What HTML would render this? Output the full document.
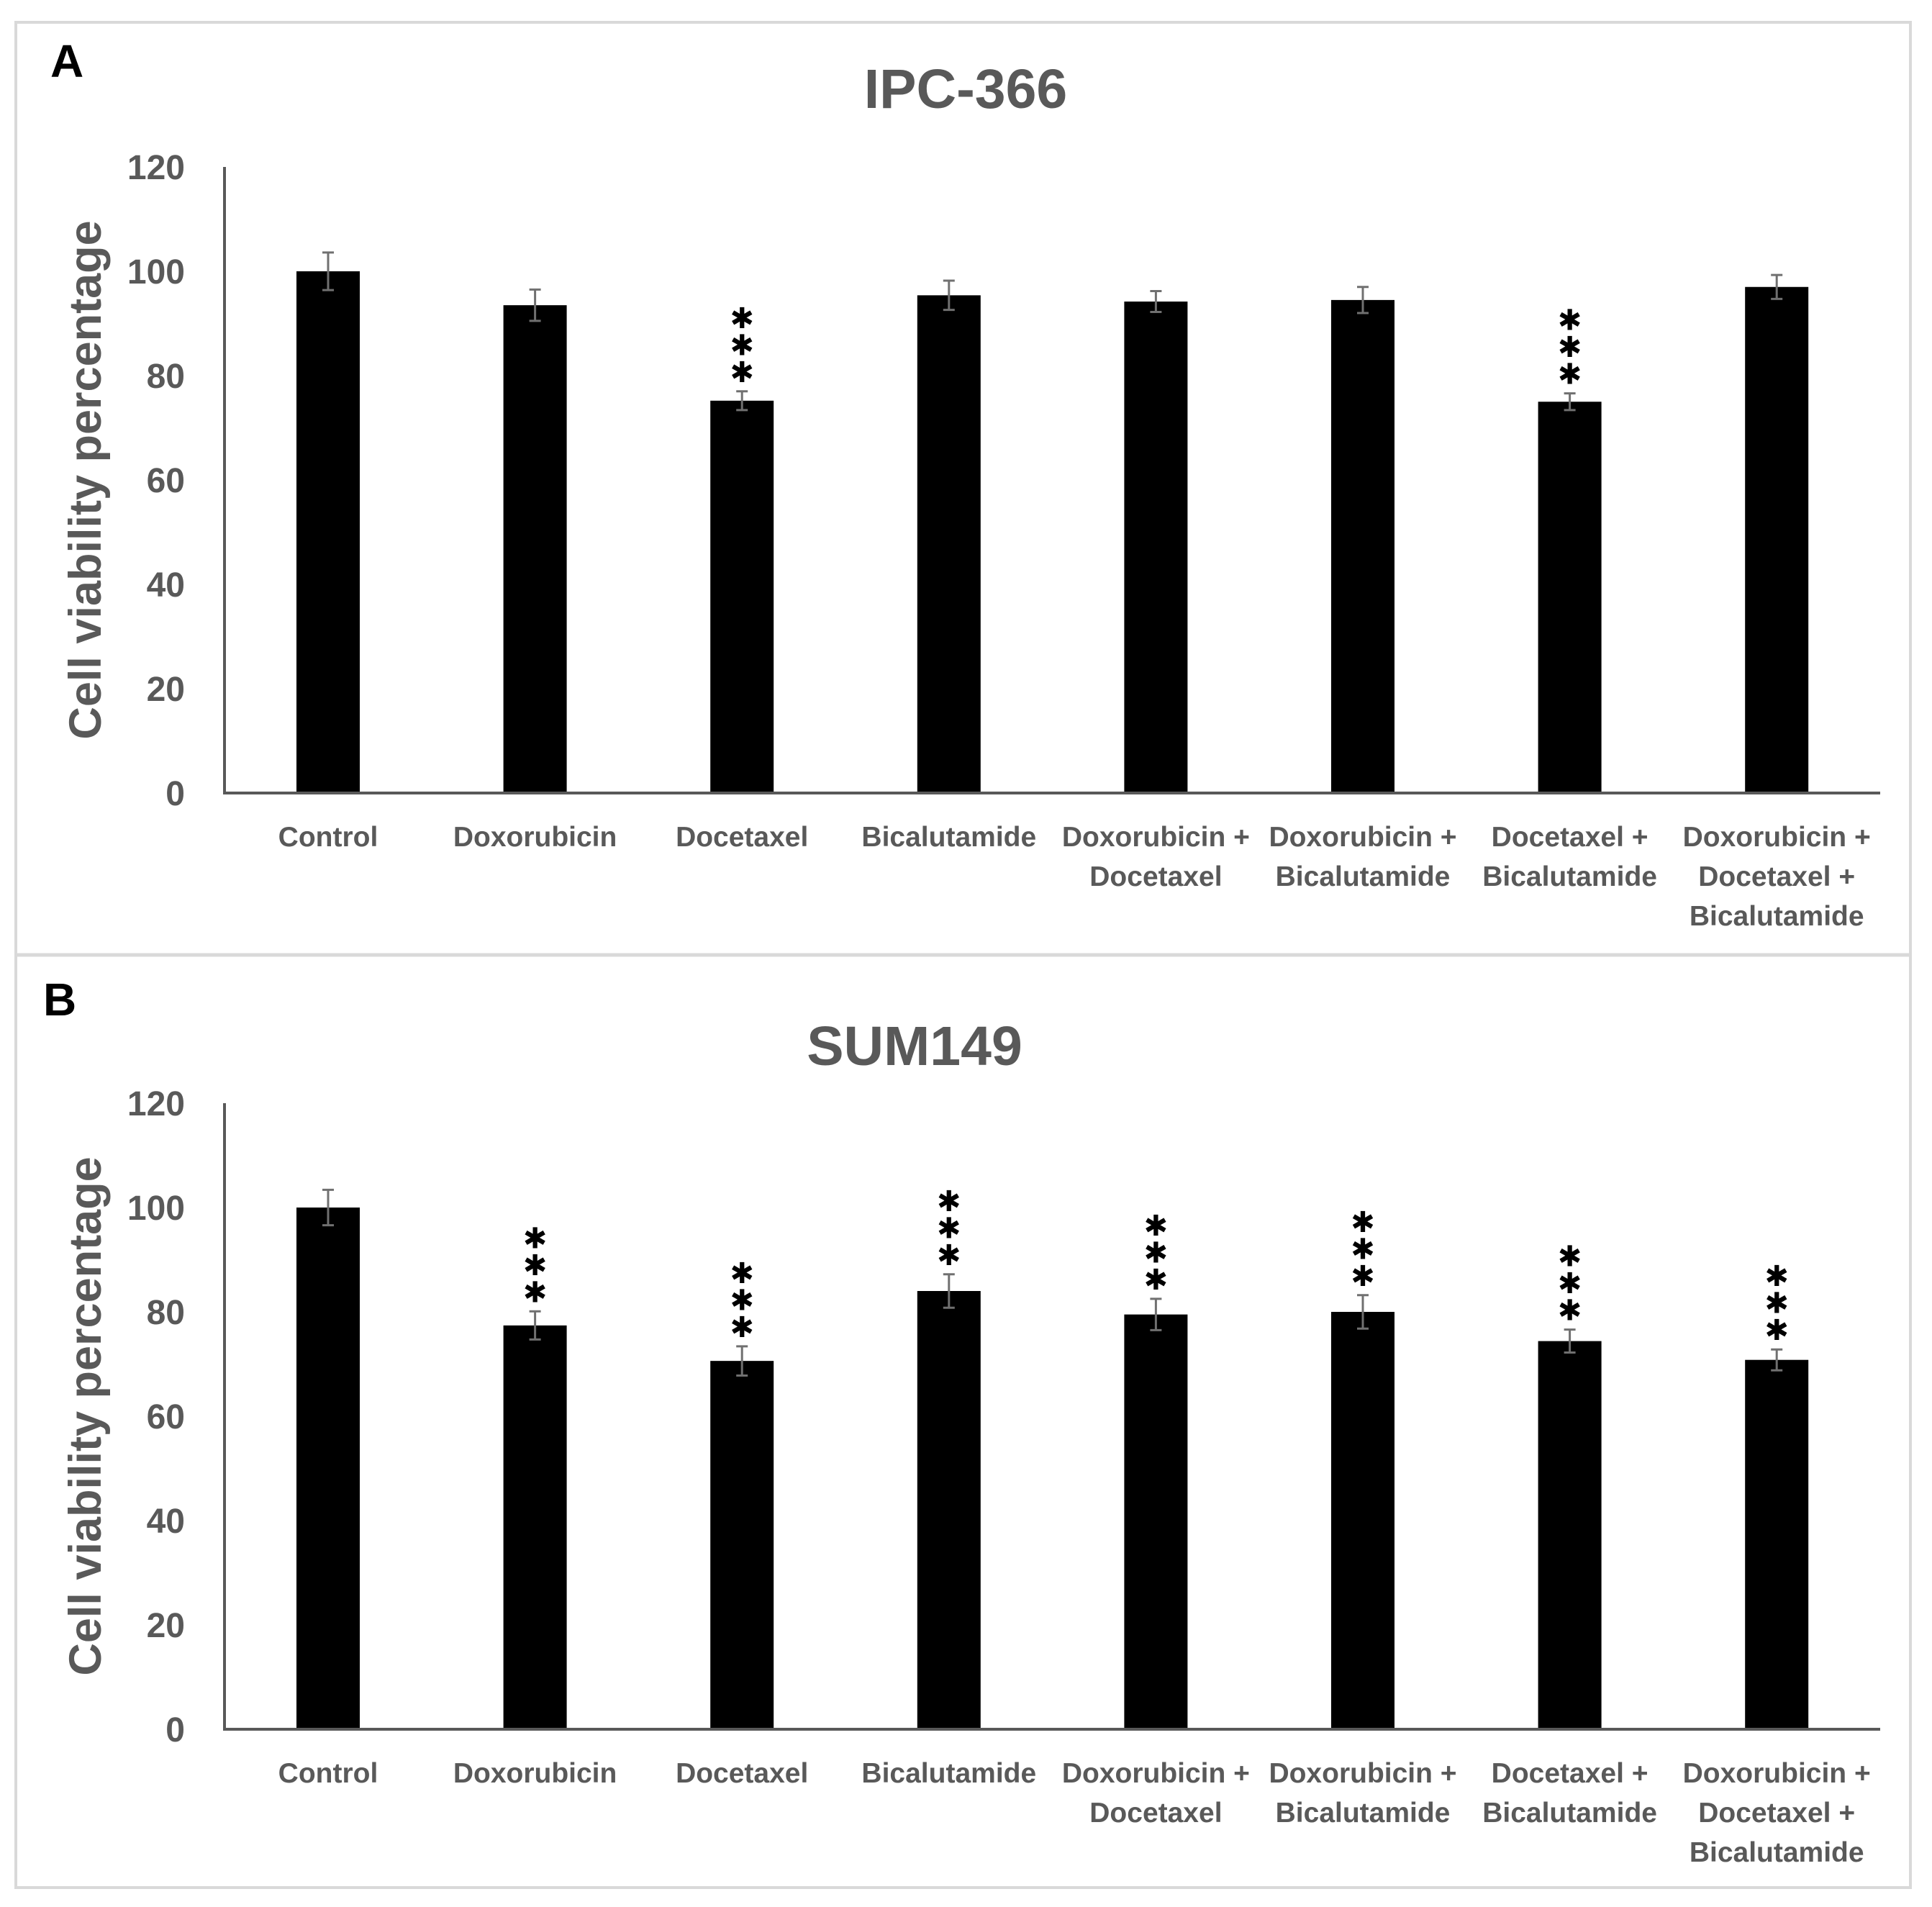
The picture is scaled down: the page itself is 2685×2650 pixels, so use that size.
<!DOCTYPE html>
<html><head><meta charset="utf-8"><style>
html,body{margin:0;padding:0;background:#fff;}
svg{display:block;}
text{font-family:"Liberation Sans",Arial,sans-serif;}
</style></head><body>
<svg id="fig" width="2685" height="2650" viewBox="0 0 2685 2650" xmlns="http://www.w3.org/2000/svg">
<rect x="0" y="0" width="2685" height="2650" fill="#fff"/>
<rect x="22" y="31" width="2633" height="2592" fill="none" stroke="#d9d9d9" stroke-width="4"/>
<line x1="22" y1="1327" x2="2655" y2="1327" stroke="#d9d9d9" stroke-width="5"/>
<text x="70" y="107" font-size="64" font-weight="bold" fill="#000">A</text>
<text x="60" y="1411" font-size="64" font-weight="bold" fill="#000">B</text>
<g id="panelA"></g>
<g id="panelB"></g>
</svg>
<script>
const categories = ["Control","Doxorubicin","Docetaxel","Bicalutamide","Doxorubicin +|Docetaxel","Doxorubicin +|Bicalutamide","Docetaxel +|Bicalutamide","Doxorubicin +|Docetaxel +|Bicalutamide"];
const yTicks = [0,20,40,60,80,100,120];
const valuesA = [100, 93.5, 75.2, 95.4, 94.2, 94.5, 75, 97];
const errorsA = [3.6, 3, 1.8, 2.8, 2, 2.5, 1.6, 2.3];
const starsA = [0, 0, 3, 0, 0, 0, 3, 0];
const valuesB = [100, 77.4, 70.6, 84, 79.5, 80, 74.4, 70.8];
const errorsB = [3.4, 2.7, 2.8, 3.2, 3, 3.2, 2.2, 2];
const starsB = [0, 3, 3, 3, 3, 3, 3, 3];

const NS = "http://www.w3.org/2000/svg";
function mk(parent, tag, attrs){
  const e = document.createElementNS(NS, tag);
  for (const k in attrs) e.setAttribute(k, attrs[k]);
  parent.appendChild(e);
  return e;
}
function drawPanel(g, cfg, values, errors, stars, key){
  const x0 = 312, xEnd = 2613, base = cfg.base, top = cfg.base - 870;
  const yMax = 120;
  const yScale = v => base - (v / yMax) * (base - top);
  const xCenter = i => 456 + i * 287.6;
  const barW = 88;
  const t = mk(g, "text", {x: cfg.titleX, y: cfg.titleY, "font-size": 77, "font-weight": "bold", fill: "#595959", "text-anchor": "middle"});
  
  
  t.textContent = cfg.title;
  const yt = mk(g, "text", {x: 0, y: 0, "font-size": 63, "font-weight": "bold", fill: "#595959", "text-anchor": "middle", transform: "translate(140," + ((base + top) / 2) + ") rotate(-90)"});
  
  
  yt.textContent = "Cell viability percentage";
  yTicks.forEach(v => {
    const tl = mk(g, "text", {x: 257, y: yScale(v) + 17, "font-size": 48, "font-weight": "bold", fill: "#595959", "text-anchor": "end"});
    
    
    tl.textContent = v;
  });
  values.forEach((v, i) => {
    const cx = xCenter(i);
    const b = mk(g, "rect", {x: cx - barW / 2, y: yScale(v), width: barW, height: base - yScale(v), fill: "#000"});
    
    
    const eTop = yScale(v + errors[i]), eBot = yScale(v - errors[i]);
    const eb = mk(g, "path", {d: "M" + (cx - 8) + " " + eTop + "H" + (cx + 8) + "M" + cx + " " + eTop + "V" + eBot + "M" + (cx - 8) + " " + eBot + "H" + (cx + 8), stroke: "#707070", "stroke-width": 3, fill: "none"});
    
    
    for (let s = 0; s < stars[i]; s++) {
      const st = mk(g, "text", {x: cx, y: eTop - 26 - s * 37.5, "font-size": 40, fill: "#000", "text-anchor": "middle", "dominant-baseline": "central", "font-family": "DejaVu Sans, sans-serif"});
      
      
      st.textContent = "\u2731";
    }
    const lines = categories[i].split("|");
    const lb = mk(g, "text", {x: cx, y: base + 74, "font-size": 39, "font-weight": "bold", fill: "#595959", "text-anchor": "middle"});
    
    
    lines.forEach((ln, j) => {
      const ts = mk(lb, "tspan", {x: cx, dy: j === 0 ? 0 : 55});
      ts.textContent = ln;
    });
  });
  const ax = mk(g, "path", {d: "M" + x0 + " " + top + "V" + base + "H" + xEnd, stroke: "#595959", "stroke-width": 4, fill: "none"});
  
  
}
drawPanel(document.getElementById("panelA"), {base: 1102, title: "IPC-366", titleX: 1342, titleY: 150}, valuesA, errorsA, starsA, "panel-a");
drawPanel(document.getElementById("panelB"), {base: 2403, title: "SUM149", titleX: 1271, titleY: 1480}, valuesB, errorsB, starsB, "panel-b");
</script>
</body></html>
